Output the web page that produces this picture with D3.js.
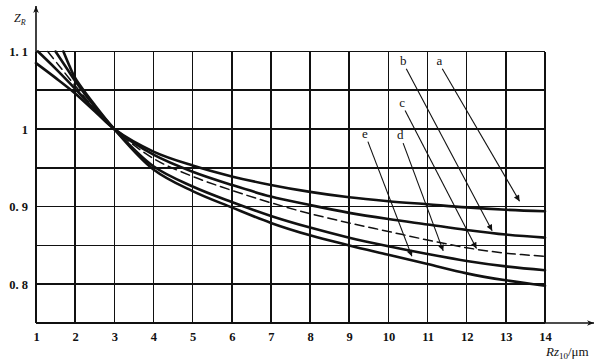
<!DOCTYPE html>
<html>
<head>
<meta charset="utf-8">
<script src="https://cdn.jsdelivr.net/npm/d3@7"></script>
<style>
  html, body { margin: 0; padding: 0; background: #fff; }
  svg { display: block; }
  text { font-family: "Liberation Serif", "DejaVu Serif", serif; fill: #111; }
</style>
</head>
<body>
<svg id="chart" width="600" height="363"></svg>
<script>
// ── data ────────────────────────────────────────────────────────────────
const xTicks = [1, 2, 3, 4, 5, 6, 7, 8, 9, 10, 11, 12, 13, 14];
const yGrid  = [0.75, 0.8, 0.85, 0.9, 0.95, 1.0, 1.05, 1.1];
const yTicks = [0.8, 0.9, 1.0, 1.1];
const yTickLabels = ['0. 8', '0. 9', '1', '1. 1'];

// [Rz10, ZR] points per curve
const curveA = [[1, 1.085], [1.5, 1.066], [2, 1.046], [2.5, 1.023], [3, 1.0], [4, 0.971], [5, 0.953],
                [6, 0.939], [7, 0.928], [8, 0.919], [9, 0.912], [10, 0.907], [11, 0.903], [12, 0.899], [13, 0.896], [14, 0.894]];
const curveB = [[1.05, 1.1], [1.5, 1.078], [2, 1.052], [2.5, 1.025], [3, 1.0], [4, 0.967], [5, 0.945],
                [6, 0.928], [7, 0.913], [8, 0.902], [9, 0.892], [10, 0.884], [11, 0.877], [12, 0.870], [13, 0.864], [14, 0.860]];
const curveC = [[1.3, 1.1], [1.6, 1.081], [2, 1.056], [2.5, 1.026], [3, 1.0], [4, 0.962], [5, 0.939],
                [6, 0.921], [7, 0.905], [8, 0.891], [9, 0.879], [10, 0.868], [11, 0.857], [12, 0.847], [13, 0.840], [14, 0.836]];
const curveD = [[1.5, 1.1], [1.75, 1.081], [2, 1.062], [2.5, 1.029], [3, 1.0], [4, 0.952], [5, 0.926],
                [6, 0.906], [7, 0.888], [8, 0.873], [9, 0.860], [10, 0.849], [11, 0.839], [12, 0.830], [13, 0.823], [14, 0.818]];
const curveE = [[1.7, 1.1], [1.85, 1.082], [2, 1.066], [2.5, 1.031], [3, 1.0], [4, 0.948], [5, 0.920],
                [6, 0.899], [7, 0.879], [8, 0.863], [9, 0.850], [10, 0.838], [11, 0.826], [12, 0.814], [13, 0.805], [14, 0.798]];

// leader labels: text, label position and arrow tip in data coords
const labels     = ['a', 'b', 'c', 'd', 'e'];
const labelAt    = [[11.3, 1.083], [10.38, 1.083], [10.35, 1.029], [10.3, 0.987], [9.4, 0.989]];
const arrowTip   = [[13.35, 0.907], [12.65, 0.869], [12.25, 0.846], [11.4, 0.843], [10.6, 0.836]];

// ── chart ──────────────────────────────────────────────────────────────
const svg = d3.select('#chart');
const x = d3.scaleLinear().domain([1, 14]).range([36, 545]);
const y = d3.scaleLinear().domain([0.75, 1.1]).range([323, 51.5]);

// grid
const grid = svg.append('g').attr('stroke', '#111').attr('stroke-width', 1.6).attr('shape-rendering', 'crispEdges');
grid.selectAll('.vg').data(xTicks).join('line')
  .attr('x1', d => x(d)).attr('x2', d => x(d))
  .attr('y1', y(0.75)).attr('y2', y(1.1));
grid.selectAll('.hg').data(yGrid).join('line')
  .attr('x1', x(1)).attr('x2', x(14))
  .attr('y1', d => y(d)).attr('y2', d => y(d));

// axes with arrows
svg.append('defs').append('marker')
  .attr('id', 'ax').attr('viewBox', '0 0 10 10').attr('refX', 10).attr('refY', 5)
  .attr('markerWidth', 10).attr('markerHeight', 7).attr('markerUnits', 'userSpaceOnUse')
  .attr('orient', 'auto')
  .append('path').attr('d', 'M0,1 L10,5 L0,9 L3,5 Z').attr('fill', '#111');
svg.append('line').attr('x1', x(1)).attr('y1', y(0.75)).attr('x2', x(1)).attr('y2', 6)
  .attr('stroke', '#111').attr('stroke-width', 1.6).attr('marker-end', 'url(#ax)');
svg.append('line').attr('x1', x(1)).attr('y1', y(0.75)).attr('x2', 594).attr('y2', y(0.75))
  .attr('stroke', '#111').attr('stroke-width', 1.6).attr('marker-end', 'url(#ax)');

// tick labels
const xAxis = svg.append('g').attr('transform', `translate(0,${y(0.75)})`)
  .call(d3.axisBottom(x).tickValues(xTicks).tickSize(0).tickPadding(9).tickFormat(d3.format('d')));
xAxis.select('.domain').remove();
xAxis.selectAll('text').attr('font-size', 12.5).attr('font-weight', 'bold')
  .attr('font-family', '"Liberation Serif", serif').attr('fill', '#111');

const yAxis = svg.append('g').attr('transform', `translate(${x(1)},0)`)
  .call(d3.axisLeft(y).tickValues(yTicks).tickSize(0).tickPadding(8).tickFormat((d, i) => yTickLabels[i]));
yAxis.select('.domain').remove();
yAxis.selectAll('text').attr('font-size', 12.5).attr('font-weight', 'bold')
  .attr('font-family', '"Liberation Serif", serif').attr('fill', '#111');

// axis titles
const zt = svg.append('text').attr('x', 14).attr('y', 22).attr('font-size', 12).attr('font-style', 'italic');
zt.append('tspan').text('Z');
zt.append('tspan').attr('font-size', 8).attr('dy', 3).text('R');

const rt = svg.append('text').attr('x', 546).attr('y', 356).attr('font-size', 13);
rt.append('tspan').attr('font-style', 'italic').text('Rz');
rt.append('tspan').attr('font-size', 9).attr('dy', 3).text('10');
rt.append('tspan').attr('dy', -3).text('/μm');

// curves
const line = d3.line().x(d => x(d[0])).y(d => y(d[1])).curve(d3.curveCatmullRom.alpha(0.5));
const curves = [curveA, curveB, curveC, curveD, curveE];
svg.selectAll('.curve').data(curves).join('path')
  .attr('class', 'curve')
  .attr('d', line)
  .attr('fill', 'none').attr('stroke', '#111')
  .attr('stroke-width', (d, i) => i === 2 ? 1.5 : 2.6)
  .attr('stroke-dasharray', (d, i) => i === 2 ? '9,5' : null)
  .attr('stroke-linecap', 'round');

// leader lines with arrowheads
svg.select('defs').append('marker')
  .attr('id', 'tip').attr('viewBox', '0 0 10 10').attr('refX', 10).attr('refY', 5)
  .attr('markerWidth', 9).attr('markerHeight', 6).attr('markerUnits', 'userSpaceOnUse')
  .attr('orient', 'auto')
  .append('path').attr('d', 'M0,0 L10,5 L0,10 Z').attr('fill', '#111');

svg.selectAll('.lead').data(labels).join('line')
  .attr('x1', (d, i) => x(labelAt[i][0]) + 3).attr('y1', (d, i) => y(labelAt[i][1]) + 4)
  .attr('x2', (d, i) => x(arrowTip[i][0])).attr('y2', (d, i) => y(arrowTip[i][1]))
  .attr('stroke', '#111').attr('stroke-width', 1.1).attr('marker-end', 'url(#tip)');

svg.selectAll('.lab').data(labels).join('text')
  .attr('x', (d, i) => x(labelAt[i][0])).attr('y', (d, i) => y(labelAt[i][1]))
  .attr('text-anchor', 'middle').attr('font-size', 13)
  .text(d => d);
</script>
</body>
</html>
